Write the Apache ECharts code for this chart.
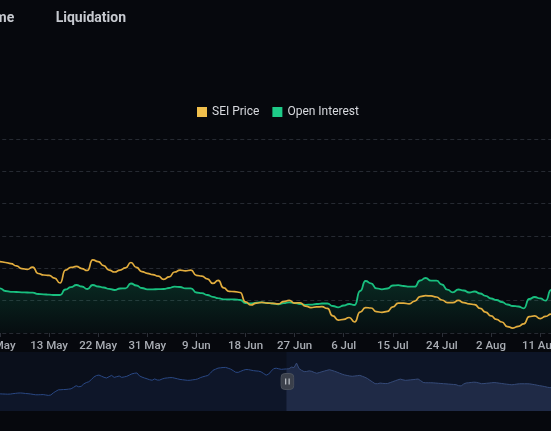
<!DOCTYPE html>
<html>
<head>
<meta charset="utf-8">
<script src="https://cdn.jsdelivr.net/npm/echarts@6/dist/echarts.min.js"></script>
<style>
html,body{margin:0;padding:0;background:#06080d;overflow:hidden;width:551px;height:431px;}
#c{position:absolute;left:-40px;top:0;width:640px;height:431px;}
</style>
</head>
<body>
<div id="c"></div>
<script>
// ---- categories: daily dates from 1 Jan 2024 to 15 Aug 2024 ----
const monthNames = ['Jan','Feb','Mar','Apr','May','Jun','Jul','Aug','Sep','Oct','Nov','Dec'];
const dayCount = 228;
const categories = [];
for (let i = 0; i < dayCount; i++) {
  const d = new Date(Date.UTC(2024, 0, 1 + i));
  categories.push(d.getUTCDate() + ' ' + monthNames[d.getUTCMonth()]);
}
const windowStartIndex = 118;   // 28 Apr
const windowEndIndex = 227;     // 15 Aug
const firstLabelIndex = 124;    // 4 May
const labelStep = 9;

// ---- SEI price (USD), 28 Apr .. 15 Aug ----
const priceValues = [
  0.498,0.493,0.503,0.493,0.489,0.484,
  0.481,0.477,0.472,0.461,0.449,0.445,0.456,0.426,0.419,0.417,
  0.405,0.382,0.442,0.454,0.459,0.449,0.440,0.489,0.481,0.463,
  0.442,0.433,0.442,0.452,0.477,0.454,0.435,0.427,0.421,0.414,
  0.399,0.410,0.433,0.442,0.438,0.442,0.417,0.414,0.401,0.380,
  0.394,0.359,0.343,0.342,0.338,0.294,0.280,0.289,0.292,0.289,
  0.287,0.285,0.296,0.301,0.289,0.290,0.275,0.268,0.271,0.272,
  0.264,0.229,0.210,0.213,0.222,0.201,0.247,0.268,0.266,0.249,
  0.246,0.250,0.271,0.289,0.289,0.285,0.298,0.319,0.323,0.322,
  0.317,0.303,0.291,0.291,0.301,0.291,0.285,0.282,0.264,0.247,
  0.229,0.213,0.201,0.180,0.173,0.181,0.192,0.226,0.229,0.217,
  0.227,0.238,0.243,0.247
];

// ---- Open interest (million USD), 28 Apr .. 15 Aug ----
const oiValues = [
  145.4,142.3,143.8,142.3,139.2,139.2,
  138.2,129.9,127.4,126.8,125.9,125.3,124.6,120.6,119.7,118.5,
  117.5,117.5,134.5,141.7,148.5,143.8,136.1,148.5,143.8,140.7,
  136.7,133.0,137.6,138.2,153.1,146.9,139.2,135.2,135.2,135.5,
  136.1,139.2,143.2,142.3,138.2,138.2,125.3,123.1,117.5,112.0,
  107.6,104.2,104.2,103.6,102.1,92.8,91.2,94.0,94.9,93.4,
  91.2,88.8,92.2,94.9,92.8,89.7,87.2,87.8,89.7,91.2,
  91.2,83.5,79.5,85.1,89.7,86.6,129.9,160.8,153.7,138.2,
  135.2,137.6,146.9,147.8,145.4,143.2,143.2,162.4,170.1,161.8,
  161.8,150.0,133.9,125.9,134.5,131.4,125.3,128.4,122.2,115.1,
  106.7,102.1,95.9,88.1,83.5,82.0,76.4,105.2,111.3,107.3,
  100.0,133.0,139.2,142.3
];

// ---- overview series shown in the zoom slider, 1 Jan .. 15 Aug ----
const overviewValues = [
  0,1,2,3.5,5,6,5.9,5.8,5.7,5.8,
  6.2,6.5,6.8,6.9,6.7,6.4,6.2,5.9,5.5,5.1,
  5.1,5.2,5.3,4.9,4.5,4.9,7,8.6,10,10.1,
  10.3,10.4,10.7,11,12.5,14.1,13,13.5,15.8,17.2,
  18,20.2,22.7,24.1,24.6,23.5,22.4,21.7,23,24.3,
  22.3,23,23.7,22.3,22.8,23.4,24.6,25.8,26.4,26.7,
  23.8,22.6,21.7,20.9,20,19.5,20.8,19.7,19.7,20.8,
  21.5,21.8,22.1,22.1,21.5,20.9,20.3,20,19.7,19.4,
  19.5,19.9,20.2,20.8,22,22.9,23.6,24.2,26.5,29.3,
  30.4,31.5,31.8,32.1,32.2,31.4,30.5,29,27.4,27.3,
  28.4,29.4,30.1,30,29.5,29,28.7,28.5,27.8,26.2,
  24.5,25.6,28.5,31,31.4,30.8,30.3,30.5,30.7,30.9,
  32.5,32,36.5,31,29.3,28,28.2,28.8,28.3,27.2,
  26.4,27.1,27.9,28.6,29.3,29.9,29.2,28.4,27.5,26.5,
  25.5,24.7,24.2,23.7,23.4,23.7,24,24.3,23.4,22.4,
  21.2,19.4,17.8,16.1,16.1,16.7,16.4,16.2,16.3,17.2,
  18.1,19,19.9,20.6,19.9,19.4,19.6,19.9,20.1,20.4,
  20.7,19.1,17.3,17,17,17,16.9,16.7,16.5,16.3,
  16.1,15.9,15.7,15.5,15.3,15.1,14.1,13.9,15.8,16.8,
  17,17.3,17.6,17.4,16.8,16.1,16.2,16.5,16.7,17,
  17.2,17,16.6,16.3,15.9,15.6,15.3,15,15.3,15.7,
  16,16,16,16,15.9,15.5,15.1,14.6,14.1,13.7,
  13.2,12.6,12.2,12,11.7,11.5,11.3,11
];

const tabLabels = ['me', 'Liquidation'];
const legendNames = ['SEI Price', 'Open Interest'];

const pad = new Array(windowStartIndex).fill(null);
const priceData = pad.concat(priceValues);
const oiData = pad.concat(oiValues);

const showTick = function (index) { return (index - firstLabelIndex) % labelStep === 0; };

const handleSvg = "<svg xmlns='http://www.w3.org/2000/svg' width='14' height='17' viewBox='0 0 14 17'>" +
  "<rect x='0.5' y='0.5' width='13' height='16' rx='4' ry='4' fill='#3b404b' stroke='#4a505c'/>" +
  "<rect x='4.6' y='5.5' width='1.3' height='6' fill='#b4b8c0'/>" +
  "<rect x='8.1' y='5.5' width='1.3' height='6' fill='#b4b8c0'/></svg>";

const chart = echarts.init(document.getElementById('c'));
chart.setOption({
  backgroundColor: '#06080d',
  animation: false,
  graphic: [
    { type: 'text', left: 34.5, top: 11, style: { text: tabLabels[0], fill: '#c6c9cf', font: 'bold 14px Roboto' } },
    { type: 'text', left: 95.7, top: 11, style: { text: tabLabels[1], fill: '#c6c9cf', font: 'bold 14px Roboto' } }
  ],
  legend: {
    data: legendNames,
    left: 232,
    top: 101,
    icon: 'rect',
    itemWidth: 10,
    itemHeight: 10,
    itemGap: 13,
    textStyle: { color: '#d7d9de', fontSize: 12, fontFamily: 'Roboto' }
  },
  grid: { left: 7.26, top: 139, width: 594.7, height: 194 },
  xAxis: {
    type: 'category',
    data: categories,
    boundaryGap: false,
    axisLine: { show: false },
    axisTick: { show: true, interval: showTick, length: 4, lineStyle: { color: '#2c3038' } },
    axisLabel: {
      interval: showTick,
      color: '#a8acb3',
      fontSize: 11.5,
      fontWeight: 500,
      fontFamily: 'Roboto',
      margin: 7
    },
    splitLine: { show: false }
  },
  yAxis: [
    { type: 'value', show: false, min: 0.15, max: 1.05, interval: 0.15 },
    {
      type: 'value', position: 'right', min: 0, max: 600, interval: 100,
      axisLabel: { show: false }, axisLine: { show: false }, axisTick: { show: false },
      splitLine: { show: true, lineStyle: { color: '#262a32', type: [4, 3], width: 1 } }
    },
    { type: 'value', show: false, min: 0, max: 40 }
  ],
  dataZoom: [{
    type: 'slider',
    xAxisIndex: 0,
    startValue: windowStartIndex,
    endValue: windowEndIndex,
    left: 25,
    width: 575,
    top: 352,
    height: 59,
    showDetail: false,
    brushSelect: false,
    moveHandleSize: 0,
    showDataShadow: true,
    backgroundColor: '#0a0f1b',
    borderColor: 'transparent',
    fillerColor: 'rgba(25,40,75,0.25)',
    handleIcon: 'image://data:image/svg+xml;charset=utf-8,' + encodeURIComponent(handleSvg),
    handleSize: 17,
    dataBackground: {
      lineStyle: { color: '#2a4884', width: 1, opacity: 1 },
      areaStyle: { color: '#0e1629', opacity: 1 }
    },
    selectedDataBackground: {
      lineStyle: { color: '#3f5687', width: 1, opacity: 1 },
      areaStyle: { color: '#222b45', opacity: 1 }
    }
  }],
  series: [
    {
      name: 'Overview',
      type: 'line',
      data: overviewValues,
      yAxisIndex: 2,
      showSymbol: false,
      silent: true,
      lineStyle: { opacity: 0 },
      z: 0
    },
    {
      name: 'Open Interest',
      type: 'line',
      data: oiData,
      yAxisIndex: 1,
      smooth: 0.6,
      smoothMonotone: 'x',
      showSymbol: false,
      itemStyle: { color: '#1ecb88' },
      lineStyle: { color: '#19bf7f', width: 1.8 },
      areaStyle: {
        color: new echarts.graphic.LinearGradient(0, 0, 0, 1, [
          { offset: 0, color: 'rgba(22,199,132,0.26)' },
          { offset: 1, color: 'rgba(22,199,132,0.04)' }
        ])
      },
      z: 2
    },
    {
      name: 'SEI Price',
      type: 'line',
      data: priceData,
      yAxisIndex: 0,
      smooth: 0.6,
      smoothMonotone: 'x',
      showSymbol: false,
      itemStyle: { color: '#f0bf4c' },
      lineStyle: { color: '#e2ad3e', width: 1.7 },
      z: 3
    }
  ]
});
</script>
</body>
</html>
